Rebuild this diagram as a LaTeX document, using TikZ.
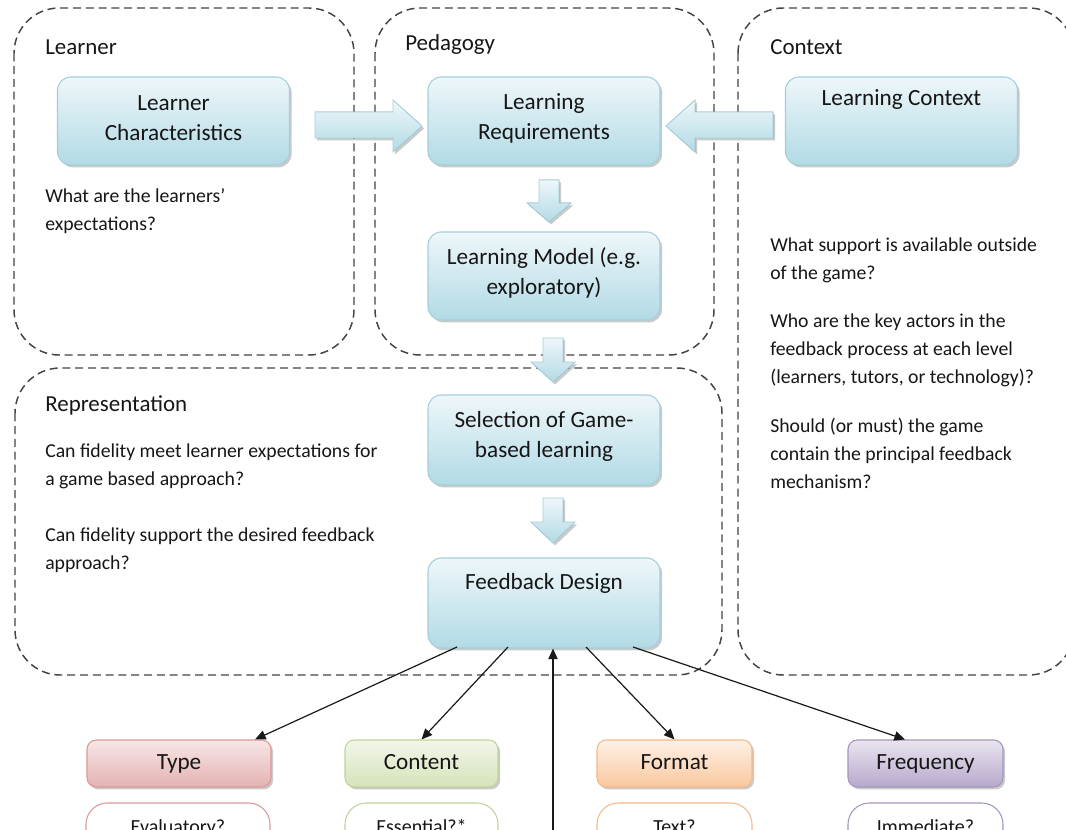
\documentclass[tikz,border=0pt]{standalone}
\usepackage{fontspec}
\setmainfont{Carlito}
\usetikzlibrary{arrows.meta,shadows}
\definecolor{txt}{HTML}{161616}
\definecolor{dashc}{HTML}{444444}
\definecolor{blueTop}{HTML}{EEF7FA}
\definecolor{blueBot}{HTML}{B2DAE5}
\definecolor{blueLine}{HTML}{A3CFDB}
\definecolor{redTop}{HTML}{F8E6E6}
\definecolor{redBot}{HTML}{E4B2B2}
\definecolor{redLine}{HTML}{D99A99}
\definecolor{grnTop}{HTML}{F2F6EA}
\definecolor{grnBot}{HTML}{D5E3BA}
\definecolor{grnLine}{HTML}{BFD49A}
\definecolor{orgTop}{HTML}{FEF1E6}
\definecolor{orgBot}{HTML}{FAC89E}
\definecolor{orgLine}{HTML}{F5B98A}
\definecolor{purTop}{HTML}{EAE5F0}
\definecolor{purBot}{HTML}{B7A8CB}
\definecolor{purLine}{HTML}{A596BC}
\begin{document}
\begin{tikzpicture}[x=0.75pt,y=-0.75pt,
  region/.style={draw=dashc, line width=1.1pt, dash pattern=on 6pt off 3.6pt, rounded corners=34pt},
  title/.style={text=txt, font=\fontsize{17.2pt}{22pt}\selectfont, anchor=west, inner sep=0pt},
  body/.style={text=txt, font=\fontsize{14.8pt}{21pt}\selectfont, anchor=north west, align=left, inner sep=0pt},
  boxfont/.style={text=txt, font=\fontsize{17.4pt}{22.5pt}\selectfont, align=center},
  shade/.style={drop shadow={shadow xshift=1.6pt, shadow yshift=-1.8pt, opacity=0.35, fill=black!60}},
  bluebox/.style={shade, rounded corners=10pt, top color=blueTop, bottom color=blueBot, draw=blueLine, line width=0.8pt, minimum width=232*0.75pt, minimum height=88*0.75pt},
  catbox/.style={shade, boxfont, rounded corners=7pt, minimum height=47*0.75pt, line width=0.8pt, text height=12pt, text depth=3.5pt},
  optbox/.style={text=txt, font=\fontsize{15pt}{18pt}\selectfont, rounded corners=16pt, fill=white, minimum height=50*0.75pt, line width=0.8pt, text height=11pt, text depth=3pt},
  blockarrow/.style={shade, top color=blueTop, bottom color=blueBot, draw=blueLine, line width=0.6pt},
  conn/.style={draw=black!90, line width=0.9pt, -{Stealth[length=8pt, width=7pt, inset=0pt]}}
]
\useasboundingbox (0,0) rectangle (1066,830);
\clip (0,0) rectangle (1066,830);

% dashed regions
\draw[region] (14,8) rectangle (354,355);
\draw[region] (375,8) rectangle (714,355);
\draw[region] (738,8) rectangle (1074,675);
\draw[region] (15,368) rectangle (722,675);

% region titles
\node[title] (tLearner) at (45,47) {Learner};
\node[title] (tPed) at (405,45) {Pedagogy};
\node[title] (tCtx) at (770,47) {Context};
\node[title] (tRep) at (45,405) {Representation};

% blue boxes (frame + text)
\node[bluebox] (lc) at (173.5,121) {};
\node[boxfont] (lct) at (173.5,118) {Learner\\Characteristics};
\node[bluebox] (lr) at (544,121) {};
\node[boxfont] (lrt) at (544,118) {Learning\\Requirements};
\node[bluebox] (lx) at (901.5,121) {};
\node[boxfont] (lxt) at (901.5,100) {Learning Context};
\node[bluebox] (lm) at (544,276) {};
\node[boxfont] (lmt) at (544,273) {Learning Model (e.g.\\exploratory)};
\node[bluebox, minimum height=90*0.75pt] (sg) at (544,440) {};
\node[boxfont] (sgt) at (544,436) {Selection of Game-\\based learning};
\node[bluebox, minimum height=90*0.75pt] (fd) at (544,603) {};
\node[boxfont] (fdt) at (544,583) {Feedback Design};

% block arrows
\filldraw[blockarrow] (315,112) -- (393,112) -- (393,100) -- (422,126) -- (393,152) -- (393,138) -- (315,138) -- cycle;
\filldraw[blockarrow] (773,112) -- (695,112) -- (695,100) -- (666,126) -- (695,152) -- (695,138) -- (773,138) -- cycle;
\filldraw[blockarrow] (539,180) -- (559,180) -- (559,203) -- (571,203) -- (549,222) -- (527,203) -- (539,203) -- cycle;
\filldraw[blockarrow] (543,338) -- (563,338) -- (563,362) -- (575,362) -- (553,382) -- (531,362) -- (543,362) -- cycle;
\filldraw[blockarrow] (543,498) -- (563,498) -- (563,522) -- (575,522) -- (553,543) -- (531,522) -- (543,522) -- cycle;

% body texts
\node[body] (qL) at (45,188) {What are the learners'\\expectations?};
\node[body] (qC1) at (770,238) {What support is available outside\\of the game?};
\node[body] (qC2) at (770,314) {Who are the key actors in the\\feedback process at each level\\(learners, tutors, or technology)?};
\node[body] (qC3) at (770,418) {Should (or must) the game\\contain the principal feedback\\mechanism?};
\node[body] (qR1) at (45,444) {Can fidelity meet learner expectations for\\a game based approach?};
\node[body] (qR2) at (45,528) {Can fidelity support the desired feedback\\approach?};

% category boxes
\node[catbox, top color=redTop, bottom color=redBot, draw=redLine, minimum width=184*0.75pt] (type) at (179,763.5) {Type};
\node[catbox, top color=grnTop, bottom color=grnBot, draw=grnLine, minimum width=153*0.75pt] (content) at (421.5,763.5) {Content};
\node[catbox, top color=orgTop, bottom color=orgBot, draw=orgLine, minimum width=155*0.75pt] (format) at (674.5,763.5) {Format};
\node[catbox, top color=purTop, bottom color=purBot, draw=purLine, minimum width=155*0.75pt] (freq) at (925.5,763.5) {Frequency};

% option boxes (cut by the page edge, as in the reference)
\node[optbox, draw=redLine, minimum width=184*0.75pt] (evalq) at (178,828) {Evaluatory?};
\node[optbox, draw=grnLine, minimum width=153*0.75pt] (essq) at (421.5,828) {Essential?*};
\node[optbox, draw=orgLine, minimum width=155*0.75pt] (textq) at (674.5,828) {Text?};
\node[optbox, draw=purLine, minimum width=155*0.75pt] (immq) at (925.5,828) {Immediate?};

% connectors
\coordinate (f1) at (457,647);
\coordinate (f2) at (508,647);
\coordinate (f3) at (586,647);
\coordinate (f4) at (633,647);
\coordinate (up) at (553,832);
\draw[conn] (f1) -- (type.north east -| 255,0);
\draw[conn] (f2) -- (content.north);
\draw[conn] (f3) -- (format.north);
\draw[conn] (f4) -- (freq.north -| 905,0);
\draw[conn] (up) -- (fd.south -| up);
\end{tikzpicture}
\end{document}
